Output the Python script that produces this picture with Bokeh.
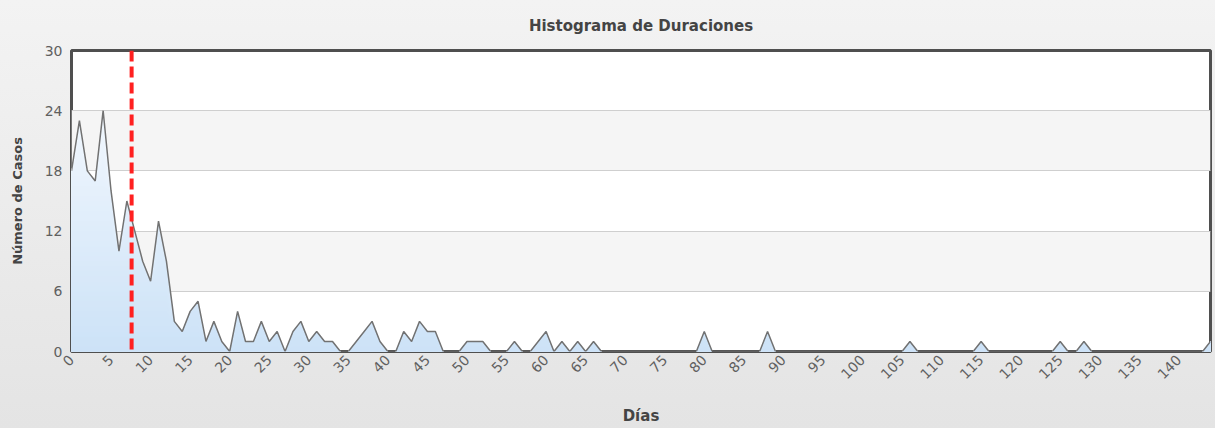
import numpy as np
from bokeh.plotting import figure
from bokeh.models import Span, FixedTicker, Range1d
from bokeh.embed import file_html
from bokeh.resources import INLINE

# ---- data ----
cases = [18, 23, 18, 17, 24, 16, 10, 15, 12, 9,
         7, 13, 9, 3, 2, 4, 5, 1, 3, 1,
         0, 4, 1, 1, 3, 1, 2, 0, 2, 3,
         1, 2, 1, 1, 0, 0, 1, 2, 3, 1,
         0, 0, 2, 1, 3, 2, 2, 0, 0, 0,
         1, 1, 1, 0, 0, 0, 1, 0, 0, 1,
         2, 0, 1, 0, 1, 0, 1, 0, 0, 0,
         0, 0, 0, 0, 0, 0, 0, 0, 0, 0,
         2, 0, 0, 0, 0, 0, 0, 0, 2, 0,
         0, 0, 0, 0, 0, 0, 0, 0, 0, 0,
         0, 0, 0, 0, 0, 0, 1, 0, 0, 0,
         0, 0, 0, 0, 0, 1, 0, 0, 0, 0,
         0, 0, 0, 0, 0, 1, 0, 0, 1, 0,
         0, 0, 0, 0, 0, 0, 0, 0, 0, 0,
         0, 0, 0, 0, 1]
days = list(range(len(cases)))
mean_days = 7.6
x_ticks = list(range(0, 145, 5))
y_ticks = [0, 6, 12, 18, 24, 30]
x_title = "Días"
y_title = "Número de Casos"
chart_title = "Histograma de Duraciones"

FONT = "DejaVu Sans"
X_MAX = days[-1]

p = figure(width=1215, height=428, output_backend="svg", toolbar_location=None,
           x_range=Range1d(0, X_MAX), y_range=Range1d(0, 30),
           min_border_left=71, min_border_right=5, min_border_top=50,
           min_border_bottom=74)

p.styles = {"background": "linear-gradient(#f3f3f3, #e4e4e4)"}
p.border_fill_color = None
p.background_fill_color = "white"
p.outline_line_color = "#4f4f4f"
p.outline_line_width = 3

p.title.text = chart_title
p.title.align = "center"
p.title.vertical_align = "top"
p.title.text_font = FONT
p.title.text_font_size = "15px"
p.title.text_font_style = "bold"
p.title.text_color = "#444444"
p.title.standoff = 27

# gradient-like area fill
x = np.array(days, dtype=float)
y = np.array(cases, dtype=float)
n_steps = 60
top_c = np.array([250, 252, 255])
bot_c = np.array([204, 226, 247])
for k in range(n_steps):
    level = 30.0 * (1 - k / n_steps)
    t = level / 30.0
    c = bot_c * (1 - t) + top_c * t
    col = "#%02x%02x%02x" % tuple(int(round(v)) for v in c)
    p.varea(x=x, y1=0, y2=np.minimum(y, level), fill_color=col)

p.line(x, y, line_color="#727272", line_width=1.5)

p.add_layout(Span(location=mean_days, dimension="height", line_color="#ff2020",
                  line_width=4, line_dash="11 5"))

# grid
p.xgrid.grid_line_color = None
p.ygrid.grid_line_color = "#cfcfcf"
p.ygrid.band_fill_color = "#f5f5f5"
p.ygrid.band_fill_alpha = 1.0
p.ygrid.ticker = FixedTicker(ticks=y_ticks)

# axes
for ax in (p.xaxis[0], p.yaxis[0]):
    ax.axis_line_color = None
    ax.major_tick_line_color = None
    ax.minor_tick_line_color = None
    ax.major_tick_out = 0
    ax.major_tick_in = 0
    ax.major_label_text_font = FONT
    ax.major_label_text_font_size = "14px"
    ax.major_label_text_color = "#606060"
    ax.axis_label_text_font = FONT
    ax.axis_label_text_font_style = "bold"
    ax.axis_label_text_color = "#444444"

p.xaxis.ticker = FixedTicker(ticks=x_ticks)
p.xaxis.major_label_orientation = np.pi / 4
p.xaxis.major_label_standoff = 6
p.xaxis.axis_label = x_title
p.xaxis.axis_label_text_font_size = "15px"
p.xaxis.axis_label_standoff = 21

p.yaxis.ticker = FixedTicker(ticks=y_ticks)
p.yaxis.major_label_standoff = 9
p.yaxis.axis_label = y_title
p.yaxis.axis_label_text_font_size = "13px"
p.yaxis.axis_label_standoff = 17

open("out.html", "w").write(file_html(p, INLINE))
